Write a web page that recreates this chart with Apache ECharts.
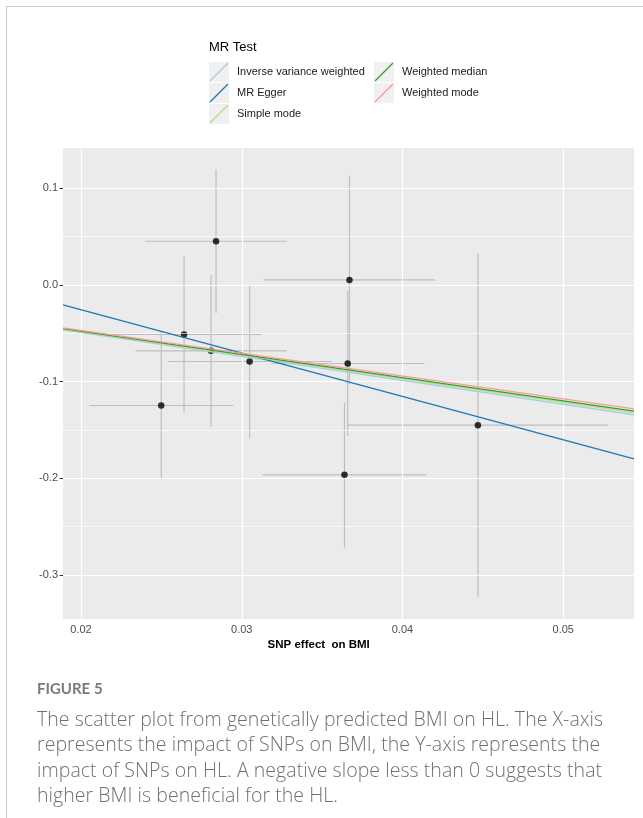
<!DOCTYPE html>
<html><head><meta charset="utf-8">
<script src="https://cdn.jsdelivr.net/npm/echarts@6/dist/echarts.min.js"></script>
<style>
html,body{margin:0;padding:0;background:#fff;width:643px;height:818px;overflow:hidden;}
#frame{position:absolute;left:6px;top:6px;width:700px;height:900px;border-left:1px solid #c8c8c8;border-top:1px solid #c8c8c8;}
#chart{position:absolute;left:0;top:0;width:643px;height:818px;}
.cap{position:absolute;left:37px;white-space:nowrap;}
#fig{top:679px;font-family:Lato,"Open Sans",sans-serif;font-size:15px;font-weight:700;color:#7a7a7a;line-height:18px;}
#txt{top:706px;font-family:"Open Sans",Lato,sans-serif;font-size:19.5px;font-weight:300;letter-spacing:0.05px;color:#707070;line-height:25.3px;}
</style></head><body>
<div id="frame"></div>
<div id="chart"></div>
<div class="cap" id="fig">FIGURE 5</div>
<div class="cap" id="txt">The scatter plot from genetically predicted BMI on HL. The X-axis<br>represents the impact of SNPs on BMI, the Y-axis represents the<br>impact of SNPs on HL. A negative slope less than 0 suggests that<br>higher BMI is beneficial for the HL.</div>
<script>
// ---- data ----
const xTicks = [0.02, 0.03, 0.04, 0.05];
const yTicks = [-0.3, -0.2, -0.1, 0.0, 0.1];
const xMinor = [0.025, 0.035, 0.045];
const yMinor = [-0.25, -0.15, -0.05, 0.05];
const xRange = [0.01888, 0.0544];
const yRange = [-0.3455, 0.1414];

const snpBMI   = [0.02840, 0.02641, 0.02809, 0.03049, 0.02499, 0.03670, 0.03659, 0.04469, 0.03639];
const seBMI    = [0.00441, 0.00480, 0.00470, 0.00510, 0.00448, 0.00532, 0.00476, 0.00809, 0.00510];
const snpHL    = [0.0450, -0.0514, -0.0683, -0.0793, -0.1248, 0.0050, -0.0814, -0.1451, -0.1965];
const seHL     = [0.0741, 0.0810, 0.0784, 0.0793, 0.0765, 0.1078, 0.0750, 0.1775, 0.0750];

const methods    = ['Inverse variance weighted', 'MR Egger', 'Simple mode', 'Weighted median', 'Weighted mode'];
const intercepts = [0, 0.0639, 0, 0, 0];
const slopes     = [-2.47, -4.482, -2.43, -2.40, -2.36];
const colors     = ['#a6cee3', '#1f78b4', '#b2df8a', '#33a02c', '#fb9a99'];

// ---- chart ----
const chart = echarts.init(document.getElementById('chart'), null, {renderer: 'canvas'});
const FONT = '"Liberation Sans", Arial, sans-serif';
const G = {left: 63, right: 9, top: 148, bottom: 199};

const gridLines = [];
xTicks.forEach(v => gridLines.push({xAxis: v, lineStyle: {color: '#ffffff', width: 1.2, type: 'solid'}}));
xMinor.forEach(v => gridLines.push({xAxis: v, lineStyle: {color: '#ffffff', width: 0.6, type: 'solid'}}));
yTicks.forEach(v => gridLines.push({yAxis: v, lineStyle: {color: '#ffffff', width: 1.2, type: 'solid'}}));
yMinor.forEach(v => gridLines.push({yAxis: v, lineStyle: {color: '#ffffff', width: 0.6, type: 'solid'}}));

const errData = snpBMI.map((x, i) => [x, snpHL[i], seBMI[i], seHL[i]]);
const ptData = snpBMI.map((x, i) => [x, snpHL[i]]);

const series = [
  {
    type: 'line', data: [], silent: true, z: 1,
    markLine: {silent: true, symbol: ['none', 'none'], label: {show: false}, animation: false,
      emphasis: {disabled: true}, data: gridLines}
  },
  {
    type: 'custom', data: errData, z: 3, silent: true, clip: true,
    encode: {x: 0, y: 1},
    renderItem: function (params, api) {
      const x = api.value(0), y = api.value(1), sx = api.value(2), sy = api.value(3);
      const v1 = api.coord([x, y - sy]), v2 = api.coord([x, y + sy]);
      const h1 = api.coord([x - sx, y]), h2 = api.coord([x + sx, y]);
      const st = {stroke: '#bebebe', lineWidth: 1.2};
      return {type: 'group', children: [
        {type: 'line', shape: {x1: v1[0], y1: v1[1], x2: v2[0], y2: v2[1]}, style: st},
        {type: 'line', shape: {x1: h1[0], y1: h1[1], x2: h2[0], y2: h2[1]}, style: st}
      ]};
    }
  },
  {
    type: 'scatter', data: ptData, z: 4, symbolSize: 6.5, silent: true,
    itemStyle: {color: '#000000'}
  }
];
methods.forEach((m, i) => {
  series.push({
    type: 'line', name: m, z: 5 + i, silent: true, showSymbol: false, symbol: 'none',
    clip: true,
    data: xRange.map(x => [x, intercepts[i] + slopes[i] * x]),
    lineStyle: {color: colors[i], width: 1.3},
    itemStyle: {color: colors[i]}
  });
});

// legend drawn with graphics
const graphics = [];
graphics.push({type: 'text', left: 209, top: 41, style: {text: 'MR Test', font: '13px ' + FONT, fill: '#000'}});
const keyPos = [[209, 62], [209, 83], [209, 104], [374, 62], [374, 83]];
methods.forEach((m, i) => {
  const [kx, ky] = keyPos[i];
  graphics.push({type: 'rect', shape: {x: kx, y: ky, width: 20, height: 20}, style: {fill: '#f0f0f0'}, z: 10});
  graphics.push({type: 'line', shape: {x1: kx + 1, y1: ky + 19, x2: kx + 19, y2: ky + 1},
    style: {stroke: colors[i], lineWidth: 1.3}, z: 11});
  graphics.push({type: 'text', x: kx + 28, y: ky + 10, z: 11,
    style: {text: m, font: '11px ' + FONT, fill: '#1a1a1a', textVerticalAlign: 'middle', verticalAlign: 'middle'}});
});
graphics.push({type: 'text', x: 318.7, y: 639,
  style: {text: 'SNP effect  on BMI', font: 'bold 11.5px ' + FONT, fill: '#000', align: 'center', textAlign: 'center', verticalAlign: 'top'}});

chart.setOption({
  animation: false,
  backgroundColor: 'transparent',
  grid: {left: G.left, right: G.right, top: G.top, bottom: G.bottom, show: true,
    backgroundColor: '#ebebeb', borderWidth: 0},
  xAxis: {
    type: 'value', min: xRange[0], max: xRange[1],
    axisLine: {show: false},
    axisTick: {show: true, length: 3.5, lineStyle: {color: '#333333', width: 1}, customValues: xTicks},
    axisLabel: {show: true, customValues: xTicks, margin: 5, color: '#4d4d4d', fontSize: 11, fontFamily: FONT,
      formatter: v => v.toFixed(2)},
    splitLine: {show: false}, minorSplitLine: {show: false}
  },
  yAxis: {
    type: 'value', min: yRange[0], max: yRange[1],
    axisLine: {show: false},
    axisTick: {show: true, length: 3.5, lineStyle: {color: '#333333', width: 1}, customValues: yTicks},
    axisLabel: {show: true, customValues: yTicks, margin: 5, color: '#4d4d4d', fontSize: 11, fontFamily: FONT,
      formatter: v => v.toFixed(1)},
    splitLine: {show: false}, minorSplitLine: {show: false}
  },
  series: series,
  graphic: graphics
});
</script>
</body></html>
